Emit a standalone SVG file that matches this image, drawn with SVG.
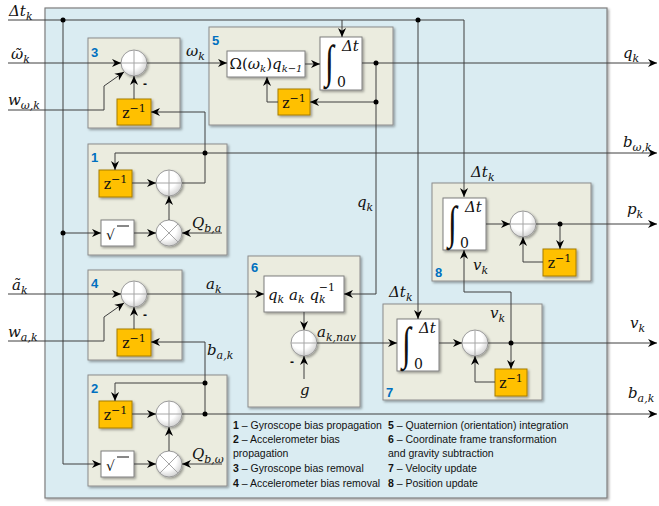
<svg xmlns="http://www.w3.org/2000/svg" width="659" height="506" viewBox="0 0 659 506">
<defs>
<marker id="ar" viewBox="0 0 10 10" refX="10" refY="5" markerWidth="9" markerHeight="9" markerUnits="userSpaceOnUse" orient="auto">
<path d="M0,0.5 L10,5 L0,9.5 L3,5 Z" fill="#000"/>
</marker>
<radialGradient id="cg" cx="0.4" cy="0.35" r="0.7">
<stop offset="0.55" stop-color="#fff"/>
<stop offset="1" stop-color="#cdcdcd"/>
</radialGradient>
<filter id="sh" x="-10%" y="-10%" width="125%" height="125%">
<feDropShadow dx="1.5" dy="1.5" stdDeviation="1" flood-color="#000" flood-opacity="0.35"/>
</filter>
</defs>
<style>
.bg{fill:#daecf2;stroke:#7f7f7f;stroke-width:1.2;filter:url(#sh)}
.blk{fill:#ebecdf;stroke:#8c8c8c;stroke-width:1;filter:url(#sh)}
.wb{fill:#fff;stroke:#7f7f7f;filter:url(#sh)}
.z{fill:#ffc000;stroke:#a67c00;filter:url(#sh)}
.c{fill:url(#cg);stroke:#9a9a9a;filter:url(#sh)}
.cx{stroke:#a6a6a6;stroke-width:1;fill:none}
.ln{fill:none;stroke:#3f3f3f;stroke-width:1}
.ln.a{marker-end:url(#ar)}
.dot{fill:#000}
.m{font-family:"DejaVu Serif","Liberation Serif",serif;font-style:italic;font-size:15px;fill:#111}
.s{font-size:11px}
.zt{font-family:"DejaVu Serif",serif;font-size:14px;fill:#111}
.it{font-family:"Liberation Serif","DejaVu Serif",serif;font-size:46px;fill:#111}
.num{font-family:"Liberation Sans",Arial,sans-serif;font-weight:bold;font-size:13px;fill:#0070c0}
.lg{font-family:"Liberation Sans",Arial,sans-serif;font-size:10.5px;fill:#111}
.lg tspan.b{font-weight:bold}
.mi{font-family:"Liberation Sans",Arial,sans-serif;font-weight:bold;font-size:12px;fill:#111}
</style>

<rect class="bg" x="45" y="8" width="562" height="490"/>

<g id="block3">
<rect class="blk" x="88" y="38" width="92" height="90"/>
<text class="num" x="91" y="57">3</text>
<circle class="c" cx="134" cy="63" r="13"/>
<path class="cx" d="M121,63 H147 M134,50 V76"/>
<rect class="z" x="117" y="99" width="34" height="26"/>
<text class="zt" x="134" y="118" text-anchor="middle">z<tspan dy="-6" font-size="11">−1</tspan></text>
<text class="mi" x="143" y="88">-</text>
</g>

<g id="block5">
<rect class="blk" x="209" y="27" width="184" height="98"/>
<text class="num" x="212" y="45">5</text>
<rect class="wb" x="227" y="51" width="78" height="26"/>
<text class="m" x="266" y="69" text-anchor="middle" font-size="13"><tspan font-style="normal">Ω(</tspan>ω<tspan font-size="10" dy="3">k</tspan><tspan dy="-3" font-style="normal">)</tspan>q<tspan font-size="10" dy="3">k−1</tspan></text>
<rect class="wb" x="320" y="37" width="42" height="53"/>
<text class="it" transform="translate(325,77) scale(0.7,1)">∫</text>
<text class="m" x="342" y="51" font-size="11">Δt</text>
<text class="zt" x="337" y="87" font-size="11">0</text>
<rect class="z" x="278" y="89" width="32" height="26"/>
<text class="zt" x="294" y="108" text-anchor="middle">z<tspan dy="-6" font-size="11">−1</tspan></text>
</g>

<g id="block1">
<rect class="blk" x="88" y="144" width="139" height="111"/>
<text class="num" x="91" y="162">1</text>
<rect class="z" x="99" y="170" width="33" height="27"/>
<text class="zt" x="115.5" y="189" text-anchor="middle">z<tspan dy="-6" font-size="11">−1</tspan></text>
<circle class="c" cx="169" cy="183" r="13"/>
<path class="cx" d="M156,183 H182 M169,170 V196"/>
<rect class="wb" x="101" y="220" width="33" height="26"/>
<text class="zt" x="106" y="240" font-size="17">√</text>
<line x1="117" y1="226" x2="129" y2="226" stroke="#111" stroke-width="1"/>
<circle class="c" cx="169" cy="233" r="13"/>
<path class="cx" d="M159.8,223.8 L178.2,242.2 M178.2,223.8 L159.8,242.2"/>
</g>

<g id="block4">
<rect class="blk" x="88" y="270" width="94" height="90"/>
<text class="num" x="91" y="288">4</text>
<circle class="c" cx="134" cy="294" r="13"/>
<path class="cx" d="M121,294 H147 M134,281 V307"/>
<rect class="z" x="117" y="329" width="34" height="27"/>
<text class="zt" x="134" y="348" text-anchor="middle">z<tspan dy="-6" font-size="11">−1</tspan></text>
<text class="mi" x="143" y="319">-</text>
</g>

<g id="block2">
<rect class="blk" x="88" y="375" width="139" height="111"/>
<text class="num" x="91" y="393">2</text>
<rect class="z" x="99" y="401" width="33" height="27"/>
<text class="zt" x="115.5" y="420" text-anchor="middle">z<tspan dy="-6" font-size="11">−1</tspan></text>
<circle class="c" cx="169" cy="414" r="13"/>
<path class="cx" d="M156,414 H182 M169,401 V427"/>
<rect class="wb" x="101" y="451" width="33" height="26"/>
<text class="zt" x="106" y="471" font-size="17">√</text>
<line x1="117" y1="457" x2="129" y2="457" stroke="#111" stroke-width="1"/>
<circle class="c" cx="169" cy="464" r="13"/>
<path class="cx" d="M159.8,454.8 L178.2,473.2 M178.2,454.8 L159.8,473.2"/>
</g>

<g id="block6">
<rect class="blk" x="248" y="256" width="112" height="151"/>
<text class="num" x="251" y="272">6</text>
<rect class="wb" x="264" y="276" width="80" height="36"/>
<text class="m" x="268" y="300">q<tspan class="s" dy="3">k</tspan><tspan dy="-3"> a</tspan><tspan class="s" dy="3">k</tspan><tspan dy="-3"> q</tspan><tspan class="s" dy="3">k</tspan><tspan class="s" dx="-7" dy="-12" font-style="normal">−1</tspan></text>
<circle class="c" cx="304" cy="343" r="13"/>
<path class="cx" d="M291,343 H317 M304,330 V356"/>
<text class="mi" x="290" y="366">-</text>
</g>

<g id="block7">
<rect class="blk" x="383" y="304" width="159" height="96"/>
<text class="num" x="386" y="397">7</text>
<rect class="wb" x="397" y="319" width="42" height="52"/>
<text class="it" transform="translate(402,359) scale(0.7,1)">∫</text>
<text class="m" x="419" y="333" font-size="11">Δt</text>
<text class="zt" x="414" y="369" font-size="11">0</text>
<circle class="c" cx="475" cy="343" r="13"/>
<path class="cx" d="M462,343 H488 M475,330 V356"/>
<rect class="z" x="495" y="369" width="32" height="27"/>
<text class="zt" x="511" y="388" text-anchor="middle">z<tspan dy="-6" font-size="11">−1</tspan></text>
</g>

<g id="block8">
<rect class="blk" x="432" y="183" width="159" height="98"/>
<text class="num" x="435" y="277">8</text>
<rect class="wb" x="443" y="198" width="43" height="52"/>
<text class="it" transform="translate(448,238) scale(0.7,1)">∫</text>
<text class="m" x="465" y="212" font-size="11">Δt</text>
<text class="zt" x="460" y="248" font-size="11">0</text>
<circle class="c" cx="523" cy="224" r="13"/>
<path class="cx" d="M510,224 H536 M523,211 V237"/>
<rect class="z" x="543" y="249" width="33" height="27"/>
<text class="zt" x="559.5" y="268" text-anchor="middle">z<tspan dy="-6" font-size="11">−1</tspan></text>
</g>

<g id="connectors">
<path class="ln a" d="M8,20 H464 V197"/>
<path class="ln a" d="M63,20 V464 H101"/>
<path class="ln a" d="M63,233 H101"/>
<path class="ln a" d="M342,20 V37"/>
<path class="ln a" d="M418,20 V319"/>
<path class="ln a" d="M8,63 H121"/>
<path class="ln a" d="M8,110 H104 V86 L124,72"/>
<path class="ln a" d="M134,99 V76"/>
<path class="ln a" d="M147,63 H227"/>
<path class="ln a" d="M305,64 H320"/>
<path class="ln a" d="M362,63 H657"/>
<path class="ln a" d="M376,63 V294 H344"/>
<path class="ln a" d="M376,102 H310"/>
<path class="ln a" d="M278,102 H267 V77"/>
<path class="ln a" d="M182,183 H205 V112 H151"/>
<path class="ln a" d="M205,153 H657"/>
<path class="ln a" d="M205,153 H115 V170"/>
<path class="ln a" d="M132,183 H156"/>
<path class="ln a" d="M134,233 H156"/>
<path class="ln a" d="M169,220 V196"/>
<path class="ln a" d="M222,233 H182"/>
<path class="ln a" d="M8,294 H121"/>
<path class="ln a" d="M8,341 H104 V317 L124,303"/>
<path class="ln a" d="M134,329 V307"/>
<path class="ln a" d="M147,294 H264"/>
<path class="ln a" d="M182,414 H205 V342 H151"/>
<path class="ln a" d="M205,414 H657"/>
<path class="ln a" d="M205,383 H115 V401"/>
<path class="ln a" d="M132,414 H156"/>
<path class="ln a" d="M134,464 H156"/>
<path class="ln a" d="M169,451 V427"/>
<path class="ln a" d="M222,464 H182"/>
<path class="ln a" d="M304,312 V330"/>
<path class="ln a" d="M304,379 V356"/>
<path class="ln a" d="M317,343 H397"/>
<path class="ln a" d="M439,343 H462"/>
<path class="ln a" d="M488,343 H657"/>
<path class="ln a" d="M511,343 V369"/>
<path class="ln a" d="M495,382 H475 V356"/>
<path class="ln a" d="M511,343 V292 H464 V250"/>
<path class="ln a" d="M486,224 H510"/>
<path class="ln a" d="M536,224 H657"/>
<path class="ln a" d="M560,224 V249"/>
<path class="ln a" d="M543,262 H523 V237"/>
<circle class="dot" cx="63" cy="20" r="2.5"/>
<circle class="dot" cx="418" cy="20" r="2.5"/>
<circle class="dot" cx="63" cy="233" r="2.5"/>
<circle class="dot" cx="376" cy="63" r="2.5"/>
<circle class="dot" cx="376" cy="102" r="2.5"/>
<circle class="dot" cx="205" cy="153" r="2.5"/>
<circle class="dot" cx="205" cy="383" r="2.5"/>
<circle class="dot" cx="205" cy="414" r="2.5"/>
<circle class="dot" cx="511" cy="343" r="2.5"/>
<circle class="dot" cx="560" cy="224" r="2.5"/>
</g>

<g id="labels">
<text class="m" x="9" y="16">Δt<tspan class="s" dy="4">k</tspan></text>
<text class="m" x="11" y="59">ῶ<tspan class="s" dy="4">k</tspan></text>
<text class="m" x="8" y="105">w<tspan class="s" dy="4">ω,k</tspan></text>
<text class="m" x="12" y="290">ã<tspan class="s" dy="4">k</tspan></text>
<text class="m" x="8" y="337">w<tspan class="s" dy="4">a,k</tspan></text>
<text class="m" x="186" y="56">ω<tspan class="s" dy="4">k</tspan></text>
<text class="m" x="206" y="289">a<tspan class="s" dy="4">k</tspan></text>
<text class="m" x="207" y="355">b<tspan class="s" dy="4">a,k</tspan></text>
<text class="m" x="192" y="228">Q<tspan class="s" dy="4">b,a</tspan></text>
<text class="m" x="192" y="459">Q<tspan class="s" dy="4">b,ω</tspan></text>
<text class="m" x="357" y="207">q<tspan class="s" dy="4">k</tspan></text>
<text class="m" x="317" y="337">a<tspan class="s" dy="4">k,nav</tspan></text>
<text class="m" x="300" y="395">g</text>
<text class="m" x="389" y="297">Δt<tspan class="s" dy="4">k</tspan></text>
<text class="m" x="490" y="318">v<tspan class="s" dy="4">k</tspan></text>
<text class="m" x="471" y="177">Δt<tspan class="s" dy="4">k</tspan></text>
<text class="m" x="473" y="270">v<tspan class="s" dy="4">k</tspan></text>
<text class="m" x="623" y="58">q<tspan class="s" dy="4">k</tspan></text>
<text class="m" x="623" y="147">b<tspan class="s" dy="4">ω,k</tspan></text>
<text class="m" x="627" y="214">p<tspan class="s" dy="4">k</tspan></text>
<text class="m" x="630" y="328">v<tspan class="s" dy="4">k</tspan></text>
<text class="m" x="628" y="398">b<tspan class="s" dy="4">a,k</tspan></text>
</g>

<g id="legend">
<text class="lg" x="233" y="429"><tspan class="b">1</tspan> – Gyroscope bias propagation</text>
<text class="lg" x="233" y="443"><tspan class="b">2</tspan> – Accelerometer bias</text>
<text class="lg" x="233" y="457">propagation</text>
<text class="lg" x="233" y="472"><tspan class="b">3</tspan> – Gyroscope bias removal</text>
<text class="lg" x="233" y="487"><tspan class="b">4</tspan> – Accelerometer bias removal</text>
<text class="lg" x="388" y="429"><tspan class="b">5</tspan> – Quaternion (orientation) integration</text>
<text class="lg" x="388" y="443"><tspan class="b">6</tspan> –  Coordinate frame transformation</text>
<text class="lg" x="388" y="457">and gravity subtraction</text>
<text class="lg" x="388" y="472"><tspan class="b">7</tspan> – Velocity update</text>
<text class="lg" x="388" y="487"><tspan class="b">8</tspan> – Position update</text>
</g>
</svg>
